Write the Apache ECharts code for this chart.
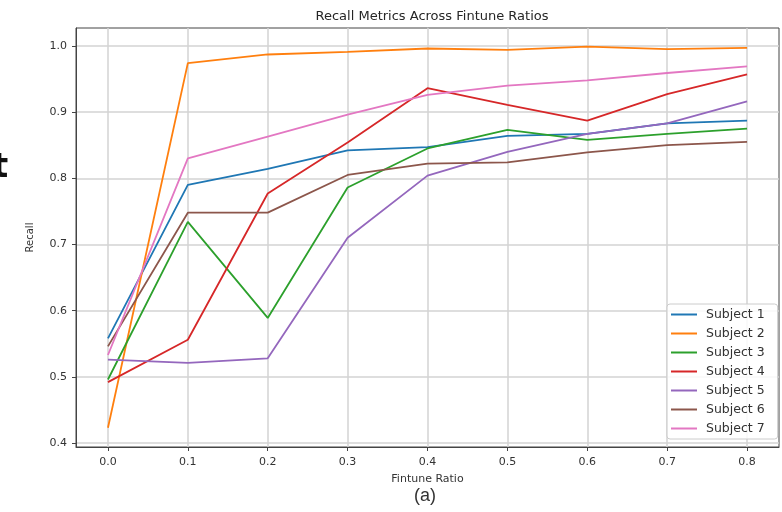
<!DOCTYPE html>
<html>
<head>
<meta charset="utf-8">
<script src="https://cdn.jsdelivr.net/npm/echarts@6/dist/echarts.min.js"></script>
<style>
  html, body { margin: 0; padding: 0; background: #fff; }
  #main { width: 782px; height: 512px; }
</style>
</head>
<body>
<div id="main"></div>
<script>
// fine-tune ratios on the x axis
var ratios = [0.0, 0.1, 0.2, 0.3, 0.4, 0.5, 0.6, 0.7, 0.8];
var xTicks = [0.0, 0.1, 0.2, 0.3, 0.4, 0.5, 0.6, 0.7, 0.8];
var yTicks = [0.4, 0.5, 0.6, 0.7, 0.8, 0.9, 1.0];

var subjectNames = ["Subject 1", "Subject 2", "Subject 3", "Subject 4", "Subject 5", "Subject 6", "Subject 7"];

// recall per subject
var subject1 = [0.558, 0.790, 0.814, 0.842, 0.847, 0.864, 0.867, 0.883, 0.887];
var subject2 = [0.423, 0.974, 0.987, 0.991, 0.996, 0.994, 0.999, 0.995, 0.997];
var subject3 = [0.496, 0.734, 0.589, 0.786, 0.845, 0.873, 0.858, 0.867, 0.875];
var subject4 = [0.492, 0.556, 0.777, 0.854, 0.936, 0.911, 0.887, 0.927, 0.957];
var subject5 = [0.526, 0.521, 0.528, 0.710, 0.804, 0.840, 0.867, 0.883, 0.916];
var subject6 = [0.546, 0.748, 0.748, 0.805, 0.822, 0.824, 0.839, 0.850, 0.855];
var subject7 = [0.533, 0.830, 0.863, 0.896, 0.926, 0.940, 0.948, 0.959, 0.969];

var allSubjects = [subject1, subject2, subject3, subject4, subject5, subject6, subject7];
var colors = ["#1f77b4", "#ff7f0e", "#2ca02c", "#d62728", "#9467bd", "#8c564b", "#e377c2"];

var mychart = echarts.init(document.getElementById("main"));

var series = allSubjects.map(function (vals, i) {
  return {
    name: subjectNames[i],
    type: "line",
    symbol: "none",
    lineStyle: { width: 1.8 },
    data: ratios.map(function (r, j) { return [r, vals[j]]; }),
  };
});

var option = {
  color: colors,
  animation: false,
  textStyle: { fontFamily: "DejaVu Sans" },
  title: {
    text: "Recall Metrics Across Fintune Ratios",
    left: 427,
    textAlign: "center",
    top: 5,
    textStyle: { fontSize: 13, fontWeight: "normal", color: "#262626" },
  },
  grid: {
    left: 76,
    right: 3,
    top: 28,
    bottom: 65,
    show: true,
    borderColor: "#444",
    borderWidth: 1,
  },
  legend: {
    orient: "vertical",
    left: 667,
    top: 304,
    padding: [4, 13, 4, 4],
    itemGap: 6,
    itemWidth: 26,
    itemHeight: 2,
    icon: "rect",
    borderColor: "#ccc",
    borderWidth: 1,
    borderRadius: 3,
    backgroundColor: "rgba(255,255,255,0.85)",
    textStyle: { fontSize: 12.5, color: "#333", padding: [0, 0, 0, 4] },
    data: subjectNames,
  },
  xAxis: {
    type: "value",
    min: -0.04,
    max: 0.84,
    name: "Fintune Ratio",
    nameLocation: "middle",
    nameGap: 27,
    nameTextStyle: { fontSize: 11, color: "#333" },
    axisLine: { show: true, onZero: false, lineStyle: { color: "#444" } },
    axisTick: { show: true, length: 4, customValues: xTicks, lineStyle: { color: "#444" } },
    axisLabel: {
      customValues: xTicks,
      fontSize: 11,
      color: "#333",
      margin: 10,
      formatter: function (v) { return v.toFixed(1); },
    },
    splitLine: { show: true, lineStyle: { color: "#d3d3d3", width: 1.5 } },
  },
  yAxis: {
    type: "value",
    min: 0.394,
    max: 1.027,
    name: "Recall",
    nameLocation: "middle",
    nameGap: 41,
    nameTextStyle: { fontSize: 10, color: "#333" },
    axisLine: { show: true, onZero: false, lineStyle: { color: "#444" } },
    axisTick: { show: true, length: 4, customValues: yTicks, lineStyle: { color: "#444" } },
    axisLabel: {
      customValues: yTicks,
      fontSize: 11,
      color: "#333",
      margin: 9,
      formatter: function (v) { return v.toFixed(1); },
    },
    splitLine: { show: true, lineStyle: { color: "#d3d3d3", width: 1.5 } },
  },
  graphic: [
    {
      type: "text",
      left: 414,
      top: 487,
      style: { text: "(a)", fontSize: 18, fill: "#333", fontFamily: "Liberation Sans" },
    },
    {
      type: "text",
      left: -8,
      top: 151,
      style: { text: "t", fontSize: 34, fontWeight: "bold", fill: "#111", fontFamily: "DejaVu Sans" },
    },
  ],
  series: series,
};

mychart.setOption(option);
mychart.resize();
</script>
</body>
</html>
